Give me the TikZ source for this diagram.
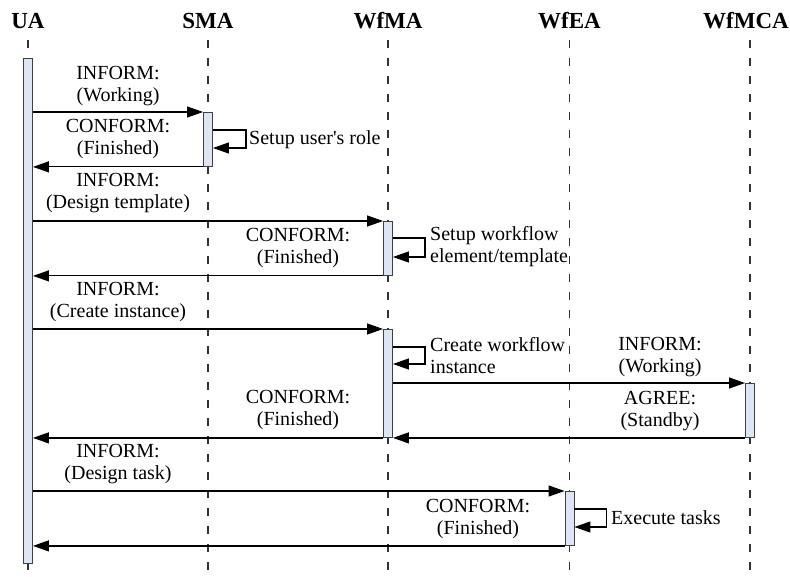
\documentclass[tikz,border=0pt]{standalone}
\usepackage{fontspec}
\setmainfont{Liberation Serif}[Ligatures=TeXOff]
\usepackage{tikz}
\usetikzlibrary{arrows.meta,calc}
\definecolor{barblue}{RGB}{221,230,242}

\begin{document}
\begin{tikzpicture}[
  x=1pt, y=-1pt,
  actor/.style={font=\bfseries\fontsize{23}{26}\selectfont, anchor=base, inner sep=0pt},
  life/.style={dash pattern=on 8pt off 10pt, line width=1.1pt, black!80},
  bar/.style={draw=black!75, fill=barblue, line width=0.9pt, minimum width=9pt, inner sep=0pt, anchor=north},
  msg/.style={-{Triangle[length=16pt,width=11pt]}, line width=1.2pt},
  lab/.style={font=\fontsize{20}{22}\selectfont, align=center, inner sep=0pt},
  note/.style={lab, align=left, anchor=west},
]
\useasboundingbox (0,0) rectangle (790,577);
% ---- agents and their lifelines ----
\node[actor] (ua) at (28,29) {UA};
\node[actor] (sma) at (208,29) {SMA};
\node[actor] (wfma) at (388,29) {WfMA};
\node[actor] (wfea) at (569.5,29) {WfEA};
\node[actor] (wfmca) at (746,29) {WfMCA};
\coordinate (top) at (0,40);
\coordinate (bot) at (0,577);
\coordinate (wfmcax) at (750,0);
\draw[life] (ua |- top) -- (ua |- bot);
\draw[life] (sma |- top) -- (sma |- bot);
\draw[life] (wfma |- top) -- (wfma |- bot);
\draw[life] (wfea |- top) -- (wfea |- bot);
\draw[life] (wfmcax |- top) -- (wfmcax |- bot);
% ---- activation bars ----
\node[bar, minimum height=505pt] (uabar) at (28,58) {};
\node[bar, minimum height=54pt] (smabar) at (208,112) {};
\node[bar, minimum height=54pt] (wfmabar1) at (388,221) {};
\node[bar, minimum height=108pt] (wfmabar2) at (388,329) {};
\node[bar, minimum height=54pt] (wfmcabar) at (750,383) {};
\node[bar, minimum height=54pt] (wfeabar) at (569.5,491) {};
% ---- UA <-> SMA ----
\draw[msg] (uabar.east |- smabar.north) -- (smabar.north west);
\draw[msg] ([yshift=-18pt]smabar.north east) -- ++(33,0) |- ([yshift=-36pt]smabar.north east);
\draw[msg] (smabar.south west) -- (uabar.east |- smabar.south);
\node[lab] (inf1) at (118,86) {INFORM:\\(Working)};
\node[lab] (con1) at (118,139) {CONFORM:\\(Finished)};
\node[note] (role) at (249,140) {Setup user's role};
% ---- UA <-> WfMA: template ----
\draw[msg] (uabar.east |- wfmabar1.north) -- (wfmabar1.north west);
\draw[msg] ([yshift=-17pt]wfmabar1.north east) -- ++(32,0) |- ([yshift=-36pt]wfmabar1.north east);
\draw[msg] (wfmabar1.south west) -- (uabar.east |- wfmabar1.south);
\node[lab] (inf2) at (118,193) {INFORM:\\(Design template)};
\node[lab] (con2) at (298,248) {CONFORM:\\(Finished)};
\node[note] (tmpl) at (430,247) {Setup workflow\\element/template};
% ---- UA <-> WfMA <-> WfMCA: instance ----
\draw[msg] (uabar.east |- wfmabar2.north) -- (wfmabar2.north west);
\draw[msg] ([yshift=-18pt]wfmabar2.north east) -- ++(32,0) |- ([yshift=-35pt]wfmabar2.north east);
\draw[msg] (wfmabar2.east |- wfmcabar.north) -- (wfmcabar.north west);
\draw[msg] (wfmcabar.south west) -- (wfmabar2.south east);
\draw[msg] (wfmabar2.south west) -- (uabar.east |- wfmabar2.south);
\node[lab] (inf3) at (118,302) {INFORM:\\(Create instance)};
\node[note] (inst) at (430,356) {Create workflow\\instance};
\node[lab] (inf4) at (660,357) {INFORM:\\(Working)};
\node[lab] (agr) at (660,411) {AGREE:\\(Standby)};
\node[lab] (con3) at (298,410) {CONFORM:\\(Finished)};
% ---- UA <-> WfEA: tasks ----
\draw[msg] (uabar.east |- wfeabar.north) -- (wfeabar.north west);
\draw[msg] ([yshift=-18pt]wfeabar.north east) -- ++(32,0) |- ([yshift=-36pt]wfeabar.north east);
\draw[msg] (wfeabar.south west) -- (uabar.east |- wfeabar.south);
\node[lab] (inf5) at (118,464) {INFORM:\\(Design task)};
\node[lab] (con4) at (478,519) {CONFORM:\\(Finished)};
\node[note] (exec) at (611,518) {Execute tasks};
\end{tikzpicture}
\end{document}
